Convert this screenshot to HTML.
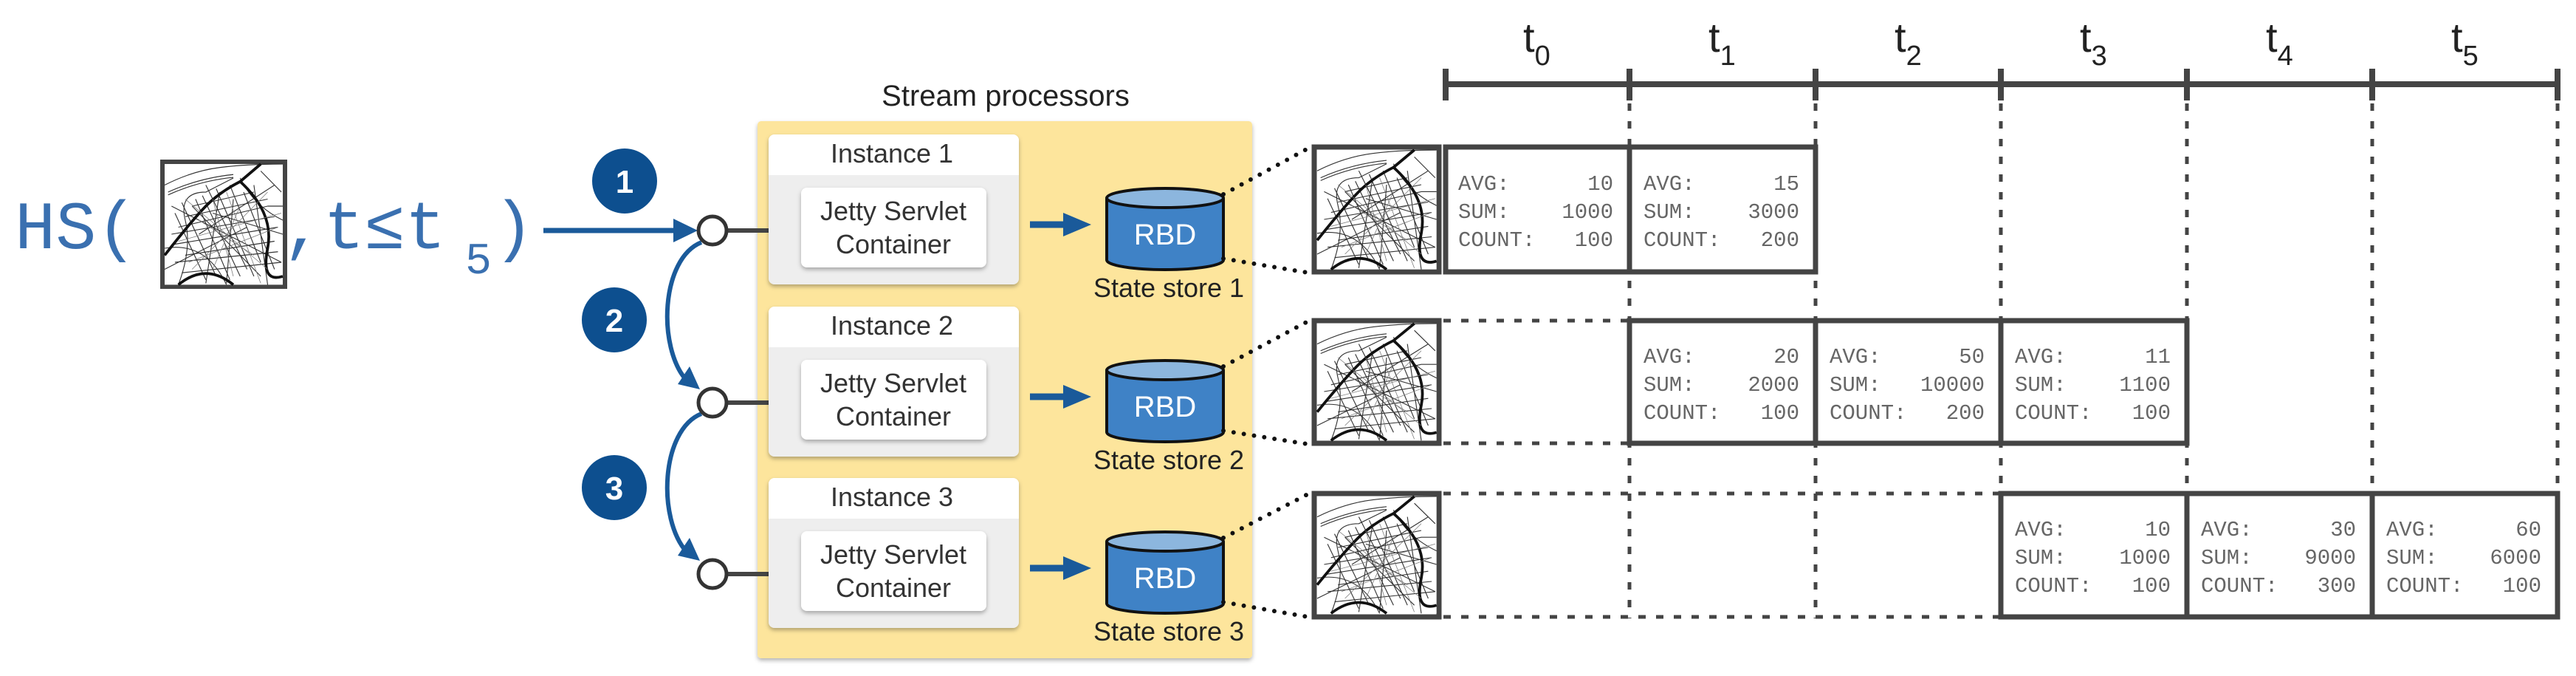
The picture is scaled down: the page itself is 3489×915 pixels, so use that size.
<!DOCTYPE html>
<html><head><meta charset="utf-8"><style>
html,body{margin:0;padding:0;background:#fff;}
svg{display:block;}
.sans{font-family:"Liberation Sans",sans-serif;}
.mono{font-family:"Liberation Mono",monospace;}
</style></head><body>
<svg width="3489" height="915" viewBox="0 0 3489 915" xmlns="http://www.w3.org/2000/svg">
<defs>
<filter id="sh" x="-10%" y="-10%" width="120%" height="130%"><feDropShadow dx="0" dy="3" stdDeviation="3" flood-color="#000" flood-opacity="0.3"/></filter>
<g id="map">
<rect x="0" y="0" width="172" height="172" fill="#fff"/>
<g fill="none" stroke="#333" stroke-width="1.2">
<path d="M0 30 Q40 10 80 5 T172 0"/><path d="M5 40 Q50 20 100 15"/><path d="M5 44 Q50 24 100 19"/>
<path d="M20 172 Q40 120 30 80 T60 40 L100 20"/><path d="M172 80 Q130 60 110 20"/>
<path d="M0 120 Q60 110 90 172"/><path d="M40 60 L140 160"/><path d="M60 30 L120 150"/>
<path d="M20 90 L150 60"/><path d="M30 130 L160 110"/><path d="M80 40 L60 170"/>
<path d="M100 50 L90 170"/><path d="M130 30 L150 172"/><path d="M10 60 L170 140"/>
<path d="M50 100 L160 30"/><path d="M0 150 L120 90"/><path d="M70 70 L172 100"/>
<path d="M15 70 L60 165"/><path d="M25 55 L75 160"/><path d="M45 50 L95 165"/><path d="M55 45 L110 160"/>
<path d="M75 35 L130 160"/><path d="M95 30 L140 140"/><path d="M115 40 L160 150"/>
<path d="M10 100 L160 75"/><path d="M10 115 L165 90"/><path d="M15 140 L165 125"/><path d="M25 155 L170 140"/>
<path d="M30 75 L150 50"/><path d="M40 60 L130 40"/><path d="M140 10 L170 40"/><path d="M150 60 L172 60"/>
</g>
<g fill="none" stroke="#111" stroke-width="4">
<path d="M0 130 Q40 80 60 60 T110 25 L140 0"/><path d="M110 25 Q160 70 150 120 T172 160"/><path d="M20 172 Q60 140 100 172"/>
</g>
<g fill="none" stroke="#777" stroke-width="0.8">
<path d="M30 50 L150 150"/><path d="M40 150 L150 40"/><path d="M70 50 L100 160"/><path d="M20 110 L170 70"/>
<path d="M90 40 L140 170"/><path d="M50 80 L130 130"/><path d="M110 60 L70 150"/><path d="M35 140 L165 90"/>
</g>
</g>
<g id="cyl">
<path d="M0 0 L0 84 A79 13 0 0 0 158 84 L158 0" fill="#3f82c6" stroke="#111" stroke-width="4"/>
<ellipse cx="79" cy="0" rx="79" ry="13" fill="#8cb6de" stroke="#111" stroke-width="4"/>
</g>
</defs>

<!-- HS expression -->
<text x="20" y="336" class="mono" font-size="92" fill="#3a70b0">HS(</text>
<rect x="220" y="219" width="166" height="169" fill="#fff" stroke="#444" stroke-width="6"/>
<use href="#map" transform="translate(223,222) scale(0.93,0.95)"/>
<text x="383" y="336" class="mono" font-size="92" fill="#3a70b0">,t≤t</text>
<text x="630" y="370" class="mono" font-size="60" fill="#3a70b0">5</text>
<text x="668" y="336" class="mono" font-size="92" fill="#3a70b0">)</text>

<!-- main arrow -->
<line x1="736" y1="312" x2="920" y2="312" stroke="#1a5a9a" stroke-width="7"/>
<polygon points="945,312 912,296 912,328" fill="#1a5a9a"/>

<!-- badges -->
<circle cx="846" cy="245" r="44" fill="#0d4f8f"/><text x="846" y="261" text-anchor="middle" class="sans" font-size="44" font-weight="bold" fill="#fff">1</text>
<circle cx="832" cy="433" r="44" fill="#0d4f8f"/><text x="832" y="449" text-anchor="middle" class="sans" font-size="44" font-weight="bold" fill="#fff">2</text>
<circle cx="832" cy="660" r="44" fill="#0d4f8f"/><text x="832" y="676" text-anchor="middle" class="sans" font-size="44" font-weight="bold" fill="#fff">3</text>

<!-- curved arrows -->
<path d="M950 328 C895 350 890 470 930 515" fill="none" stroke="#1a5a9a" stroke-width="6"/>
<polygon points="948,527 918,520 934,496" fill="#1a5a9a"/>
<path d="M950 560 C895 582 890 702 930 747" fill="none" stroke="#1a5a9a" stroke-width="6"/>
<polygon points="948,759 918,752 934,728" fill="#1a5a9a"/>

<!-- panel -->
<text x="1362" y="143" text-anchor="middle" class="sans" font-size="40" fill="#222">Stream processors</text>
<rect x="1026" y="164" width="670" height="727" rx="5" fill="#fde59c" filter="url(#sh)"/>

<g>
<line x1="985" y1="312" x2="1042" y2="312" stroke="#444" stroke-width="6"/>
<circle cx="965" cy="312" r="19" fill="#fff" stroke="#333" stroke-width="5"/>
<rect x="1041" y="182" width="339" height="203" rx="8" fill="#eeeeee" filter="url(#sh)"/>
<path d="M1049 182 H1372 A8 8 0 0 1 1380 190 V237 H1041 V190 A8 8 0 0 1 1049 182Z" fill="#fff"/>
<text x="1208" y="220" text-anchor="middle" class="sans" font-size="36" fill="#333">Instance 1</text>
<rect x="1085" y="254" width="251" height="108" rx="8" fill="#fff" filter="url(#sh)"/>
<text x="1210" y="298" text-anchor="middle" class="sans" font-size="36" fill="#333">Jetty Servlet</text>
<text x="1210" y="343" text-anchor="middle" class="sans" font-size="36" fill="#333">Container</text>
<line x1="1395" y1="304" x2="1445" y2="304" stroke="#1a5a9a" stroke-width="9"/>
<polygon points="1478,304 1440,288 1440,320" fill="#1a5a9a"/>
<use href="#cyl" transform="translate(1499,268)"/>
<text x="1578" y="331" text-anchor="middle" class="sans" font-size="40" fill="#fff">RBD</text>
<text x="1583" y="402" text-anchor="middle" class="sans" font-size="36" fill="#222">State store 1</text>
</g>
<g transform="translate(0,233)">
<line x1="985" y1="312" x2="1042" y2="312" stroke="#444" stroke-width="6"/>
<circle cx="965" cy="312" r="19" fill="#fff" stroke="#333" stroke-width="5"/>
<rect x="1041" y="182" width="339" height="203" rx="8" fill="#eeeeee" filter="url(#sh)"/>
<path d="M1049 182 H1372 A8 8 0 0 1 1380 190 V237 H1041 V190 A8 8 0 0 1 1049 182Z" fill="#fff"/>
<text x="1208" y="220" text-anchor="middle" class="sans" font-size="36" fill="#333">Instance 2</text>
<rect x="1085" y="254" width="251" height="108" rx="8" fill="#fff" filter="url(#sh)"/>
<text x="1210" y="298" text-anchor="middle" class="sans" font-size="36" fill="#333">Jetty Servlet</text>
<text x="1210" y="343" text-anchor="middle" class="sans" font-size="36" fill="#333">Container</text>
<line x1="1395" y1="304" x2="1445" y2="304" stroke="#1a5a9a" stroke-width="9"/>
<polygon points="1478,304 1440,288 1440,320" fill="#1a5a9a"/>
<use href="#cyl" transform="translate(1499,268)"/>
<text x="1578" y="331" text-anchor="middle" class="sans" font-size="40" fill="#fff">RBD</text>
<text x="1583" y="402" text-anchor="middle" class="sans" font-size="36" fill="#222">State store 2</text>
</g>
<g transform="translate(0,465)">
<line x1="985" y1="312" x2="1042" y2="312" stroke="#444" stroke-width="6"/>
<circle cx="965" cy="312" r="19" fill="#fff" stroke="#333" stroke-width="5"/>
<rect x="1041" y="182" width="339" height="203" rx="8" fill="#eeeeee" filter="url(#sh)"/>
<path d="M1049 182 H1372 A8 8 0 0 1 1380 190 V237 H1041 V190 A8 8 0 0 1 1049 182Z" fill="#fff"/>
<text x="1208" y="220" text-anchor="middle" class="sans" font-size="36" fill="#333">Instance 3</text>
<rect x="1085" y="254" width="251" height="108" rx="8" fill="#fff" filter="url(#sh)"/>
<text x="1210" y="298" text-anchor="middle" class="sans" font-size="36" fill="#333">Jetty Servlet</text>
<text x="1210" y="343" text-anchor="middle" class="sans" font-size="36" fill="#333">Container</text>
<line x1="1395" y1="304" x2="1445" y2="304" stroke="#1a5a9a" stroke-width="9"/>
<polygon points="1478,304 1440,288 1440,320" fill="#1a5a9a"/>
<use href="#cyl" transform="translate(1499,268)"/>
<text x="1578" y="331" text-anchor="middle" class="sans" font-size="40" fill="#fff">RBD</text>
<text x="1583" y="402" text-anchor="middle" class="sans" font-size="36" fill="#222">State store 3</text>
</g>

<!-- dotted connectors cyl->map -->
<g stroke="#111" stroke-width="6" stroke-linecap="round" stroke-dasharray="0 14" fill="none">
<line x1="1657" y1="263" x2="1777" y2="198"/><line x1="1657" y1="350" x2="1777" y2="370"/>
<line x1="1657" y1="496" x2="1777" y2="432"/><line x1="1657" y1="583" x2="1777" y2="602"/>
<line x1="1657" y1="728" x2="1777" y2="666"/><line x1="1657" y1="815" x2="1777" y2="836"/>
</g>

<!-- timeline -->
<g stroke="#444" stroke-width="8" fill="none">
<line x1="1958" y1="114" x2="3464" y2="114"/>
<line x1="1958" y1="93" x2="1958" y2="136"/><line x1="2207" y1="93" x2="2207" y2="136"/>
<line x1="2459" y1="93" x2="2459" y2="136"/><line x1="2710" y1="93" x2="2710" y2="136"/>
<line x1="2962" y1="93" x2="2962" y2="136"/><line x1="3213" y1="93" x2="3213" y2="136"/>
<line x1="3464" y1="93" x2="3464" y2="136"/>
</g>
<g class="sans" font-size="56" fill="#222">
<text x="2063" y="70">t<tspan font-size="38" dy="18">0</tspan></text>
<text x="2314" y="70">t<tspan font-size="38" dy="18">1</tspan></text>
<text x="2566" y="70">t<tspan font-size="38" dy="18">2</tspan></text>
<text x="2817" y="70">t<tspan font-size="38" dy="18">3</tspan></text>
<text x="3069" y="70">t<tspan font-size="38" dy="18">4</tspan></text>
<text x="3320" y="70">t<tspan font-size="38" dy="18">5</tspan></text>
</g>

<!-- dotted verticals & horizontals -->
<g stroke="#444" stroke-width="5" stroke-dasharray="10 14" fill="none">
<line x1="2207" y1="140" x2="2207" y2="837"/><line x1="2459" y1="140" x2="2459" y2="837"/>
<line x1="2710" y1="140" x2="2710" y2="837"/><line x1="2962" y1="140" x2="2962" y2="837"/>
<line x1="3213" y1="140" x2="3213" y2="837"/><line x1="3464" y1="140" x2="3464" y2="837"/>
<line x1="1955" y1="434" x2="2207" y2="434"/><line x1="1955" y1="600" x2="2207" y2="600"/>
<line x1="1955" y1="668" x2="2710" y2="668"/><line x1="1955" y1="835" x2="2710" y2="835"/>
</g>

<!-- maps -->
<g stroke="#444" stroke-width="7" fill="#fff">
<rect x="1780" y="199" width="169" height="169"/>
<rect x="1780" y="434" width="169" height="166"/>
<rect x="1780" y="668" width="169" height="167"/>
</g>
<use href="#map" transform="translate(1784,203) scale(0.94,0.94)"/>
<use href="#map" transform="translate(1784,438) scale(0.94,0.92)"/>
<use href="#map" transform="translate(1784,672) scale(0.94,0.92)"/>

<!-- boxes -->
<g stroke="#444" stroke-width="7" fill="none">
<rect x="1958" y="199" width="501" height="169"/><line x1="2207" y1="199" x2="2207" y2="368"/>
<rect x="2207" y="434" width="755" height="166"/><line x1="2459" y1="434" x2="2459" y2="600"/><line x1="2710" y1="434" x2="2710" y2="600"/>
<rect x="2710" y="668" width="754" height="167"/><line x1="2962" y1="668" x2="2962" y2="835"/><line x1="3213" y1="668" x2="3213" y2="835"/>
</g>
<g class="mono" font-size="29" fill="#666">
<text x="1975" y="257">AVG:</text><text x="2185" y="257" text-anchor="end">10</text>
<text x="1975" y="295">SUM:</text><text x="2185" y="295" text-anchor="end">1000</text>
<text x="1975" y="333">COUNT:</text><text x="2185" y="333" text-anchor="end">100</text>
<text x="2226" y="257">AVG:</text><text x="2437" y="257" text-anchor="end">15</text>
<text x="2226" y="295">SUM:</text><text x="2437" y="295" text-anchor="end">3000</text>
<text x="2226" y="333">COUNT:</text><text x="2437" y="333" text-anchor="end">200</text>
<text x="2226" y="491">AVG:</text><text x="2437" y="491" text-anchor="end">20</text>
<text x="2226" y="529">SUM:</text><text x="2437" y="529" text-anchor="end">2000</text>
<text x="2226" y="567">COUNT:</text><text x="2437" y="567" text-anchor="end">100</text>
<text x="2478" y="491">AVG:</text><text x="2688" y="491" text-anchor="end">50</text>
<text x="2478" y="529">SUM:</text><text x="2688" y="529" text-anchor="end">10000</text>
<text x="2478" y="567">COUNT:</text><text x="2688" y="567" text-anchor="end">200</text>
<text x="2729" y="491">AVG:</text><text x="2940" y="491" text-anchor="end">11</text>
<text x="2729" y="529">SUM:</text><text x="2940" y="529" text-anchor="end">1100</text>
<text x="2729" y="567">COUNT:</text><text x="2940" y="567" text-anchor="end">100</text>
<text x="2729" y="725">AVG:</text><text x="2940" y="725" text-anchor="end">10</text>
<text x="2729" y="763">SUM:</text><text x="2940" y="763" text-anchor="end">1000</text>
<text x="2729" y="801">COUNT:</text><text x="2940" y="801" text-anchor="end">100</text>
<text x="2981" y="725">AVG:</text><text x="3191" y="725" text-anchor="end">30</text>
<text x="2981" y="763">SUM:</text><text x="3191" y="763" text-anchor="end">9000</text>
<text x="2981" y="801">COUNT:</text><text x="3191" y="801" text-anchor="end">300</text>
<text x="3232" y="725">AVG:</text><text x="3442" y="725" text-anchor="end">60</text>
<text x="3232" y="763">SUM:</text><text x="3442" y="763" text-anchor="end">6000</text>
<text x="3232" y="801">COUNT:</text><text x="3442" y="801" text-anchor="end">100</text>
</g>
</svg>
</body></html>
